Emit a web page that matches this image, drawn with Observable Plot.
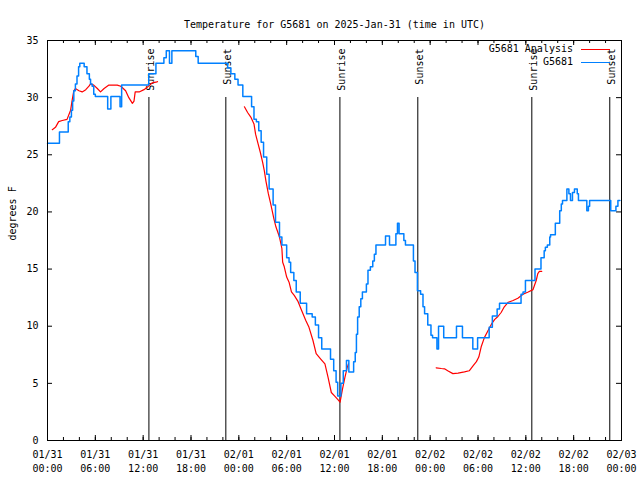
<!DOCTYPE html>
<html><head><meta charset="utf-8">
<script src="https://cdn.jsdelivr.net/npm/d3@7"></script>
<script src="https://cdn.jsdelivr.net/npm/@observablehq/plot@0.6"></script>
<style>
body{margin:0;background:#fff;}
#wrap{position:relative;width:640px;height:480px;font-family:"DejaVu Sans Mono",monospace;}
.lg{position:absolute;font-size:10px;line-height:12px;white-space:nowrap;text-align:right;color:#000;}
.sw{position:absolute;height:0;width:29px;}
</style></head><body><div id="wrap"></div>
<script>
// ---- data (hours since 2025-01-31 00:00 UTC) ----
const titleText = "Temperature for G5681 on 2025-Jan-31 (time in UTC)";
const yLabel = "degrees F";
const seriesNames = ["G5681 Analysis", "G5681"];
const seriesColors = ["#ff0000", "#0080ff"];

const obsHours = [0,1.5,2.6,2.8,3.0,3.15,3.3,3.5,3.7,3.9,4.05,4.6,4.95,5.25,5.4,5.6,5.8,6.0,7.55,7.95,9.1,9.3,12.7,13.6,14.6,14.9,15.3,15.6,18.6,18.9,22.6,23.0,23.5,23.9,24.5,25.6,25.9,26.2,26.5,26.8,27.1,27.5,27.8,28.3,28.6,29.1,29.4,30.0,30.3,30.5,30.9,31.2,31.7,32.5,33.2,33.6,34.0,34.4,35.5,35.9,36.2,36.4,36.8,37.1,37.5,37.8,38.4,38.6,38.75,38.9,39.1,39.3,39.5,40.0,40.2,40.5,40.8,41.0,41.2,42.4,42.9,43.7,43.9,44.1,44.7,44.9,45.9,46.1,46.4,46.8,47.1,47.3,47.7,48.1,48.3,48.85,49.05,49.7,51.3,52.05,53.35,53.95,55.4,55.8,56.4,56.7,59.4,59.65,59.95,61.15,61.9,62.3,62.45,62.7,63.0,63.1,63.7,64.25,64.45,64.6,65.15,65.4,65.6,65.85,66.1,66.45,66.6,67.65,67.85,68.0,70.65,71.3,71.55,71.8];
const obsTemps = [26,27,27.9,28.3,28.9,29.7,30.6,31.2,31.9,32.7,33,32.7,32.1,31.6,31.2,31,30.3,30.1,29,30.1,29.2,31.1,32.1,33,33.5,34.1,33,34.1,33.6,33,32.6,32.1,31.6,31.1,30.1,29.2,28.1,27.9,27.1,26.1,24.8,23.3,22,20.6,19.1,17.8,17.1,16,15.6,14.7,14,13,12,11.1,10.8,10.1,9,8,7.1,6.1,5.1,3.9,5,6.1,7,6,6.9,7.7,9.3,10.8,11.7,12.4,13,13.7,14.9,15.2,15.7,16.3,17.1,17.9,17.1,18.1,19,18.1,17.5,17.1,15.7,14.7,13.1,12.8,11.7,11.1,10.1,9.2,9,8,10,9,10,9,8,9,9.9,10.9,11.5,12,12.8,13,14,15,16,16.6,16.9,17.1,17.8,18,19,20.1,20.7,21,22,21.6,21,21.7,22,21.6,21,20.1,20.5,21,20.1,20.5,21,21];

// analysis: null marks a gap between runs
const anaHours = [0.6,1.0,1.4,1.85,2.45,2.9,3.1,3.3,3.5,3.95,4.35,4.8,5.2,5.4,5.8,6.25,6.65,7.1,7.7,8.75,9.2,9.8,10.2,10.65,10.85,11.0,11.5,12.1,12.5,13.15,13.6,13.8,
  null,
  24.7,25.1,25.5,25.9,26.1,26.4,26.7,27.0,27.2,27.4,27.7,28.0,28.4,28.65,29.1,29.4,29.5,29.7,30.0,30.3,30.6,30.95,31.4,31.8,32.4,32.8,33.3,33.7,34.3,34.8,35.2,35.6,36.0,36.4,36.7,37.0,37.3,37.6,37.75,
  null,
  48.75,49.4,49.8,50.2,50.85,51.5,52.3,52.9,53.4,53.8,54.1,54.4,54.8,55.25,55.7,56.1,56.5,56.9,57.3,57.8,58.4,59.0,59.65,60.3,60.9,61.1,61.3,61.5,61.7,62.0];
const anaTemps = [27.2,27.4,27.9,28.0,28.1,28.9,29.8,30.6,30.8,30.6,30.5,30.7,31.0,31.2,31.1,30.8,30.5,30.8,31.1,31.1,31.0,30.6,30.0,29.5,29.7,30.5,30.5,30.7,30.9,31.3,31.35,31.4,
  null,
  29.2,28.7,28.3,27.7,26.8,26.0,25.2,24.3,23.6,22.7,21.6,20.7,19.4,18.7,17.8,16.8,15.6,15.2,14.3,13.85,13.0,12.7,12.2,11.5,10.5,9.9,8.75,7.6,7.1,6.7,5.5,4.2,3.9,3.6,3.35,4.5,5.5,6.4,6.7,
  null,
  6.36,6.3,6.27,6.1,5.85,5.9,6.0,6.1,6.56,6.9,7.3,8.2,9.0,9.6,10.2,10.6,10.85,11.2,11.7,12.1,12.25,12.45,12.8,13.0,13.2,13.6,14.0,14.6,14.8,14.8];

const eventHours = [12.72, 22.37, 36.68, 46.45, 60.75, 70.53];
const eventLabels = ["Sunrise","Sunset","Sunrise","Sunset","Sunrise","Sunset"];
const yTicks = [0,5,10,15,20,25,30,35];
const majorTickHours = d3.range(0, 73, 6);
const minorTickHours = d3.range(0, 73, 2);

// ---- build ----
const base = Date.UTC(2025, 0, 31);
const T = h => new Date(base + h * 3600e3);
const obs = obsHours.map((h, i) => ({t: T(h), v: obsTemps[i]}));
const ana = anaHours.map((h, i) => h == null ? {t: null, v: NaN} : ({t: T(h), v: anaTemps[i]}));
const events = eventHours.map((h, i) => ({t: T(h), label: eventLabels[i]}));
const majorTicks = majorTickHours.map(T);
const minorTicks = minorTickHours.map(T);
const fD = d3.utcFormat("%m/%d"), fH = d3.utcFormat("%H:%M");
const fmt = d => fD(d) + "\n" + fH(d);

const W = 640, H = 480, mL = 47, mR = 19, mT = 40, mB = 40;
const iw = W - mL - mR, ih = H - mT - mB;

const chart = Plot.plot({
  width: W, height: H,
  marginLeft: mL, marginRight: mR, marginTop: mT, marginBottom: mB,
  style: {fontFamily: '"DejaVu Sans Mono", monospace', fontSize: "10px", background: "white", color: "black"},
  x: {type: "utc", domain: [T(0), T(72)], label: null},
  y: {domain: [0, 35], label: null},
  marks: [
    Plot.axisX(majorTicks, {tickSize: 0, tickPadding: 8, tickFormat: fmt, lineHeight: 1.4, label: null}),
    Plot.axisY(yTicks, {tickSize: 0, tickPadding: 9, label: null}),
    Plot.ruleX(minorTicks, {insetTop: ih - 3, stroke: "black"}),
    Plot.ruleX(minorTicks, {insetBottom: ih - 3, stroke: "black"}),
    Plot.ruleX(majorTicks, {insetTop: ih - 5, stroke: "black"}),
    Plot.ruleX(majorTicks, {insetBottom: ih - 5, stroke: "black"}),
    Plot.ruleY(yTicks, {insetRight: iw - 5, stroke: "black"}),
    Plot.ruleY(yTicks, {insetLeft: iw - 5, stroke: "black"}),
    Plot.ruleX(events, {x: "t", insetTop: 57, stroke: "black", strokeWidth: 1}),
    Plot.text(events, {x: "t", text: "label", frameAnchor: "top", rotate: -90, textAnchor: "end", dy: 8, dx: -2, fill: "black"}),
    Plot.line(ana, {x: "t", y: "v", stroke: seriesColors[0], strokeWidth: 1.2}),
    Plot.line(obs, {x: "t", y: "v", stroke: seriesColors[1], strokeWidth: 1.5, curve: "step-after"}),
    Plot.frame({stroke: "black"}),
    Plot.text([titleText], {text: d => d, frameAnchor: "top", dy: -20, fill: "black"}),
    Plot.text([yLabel], {text: d => d, frameAnchor: "left", dx: -35, rotate: -90, fill: "black"})
  ]
});
const wrap = document.getElementById("wrap");
wrap.appendChild(chart);

// legend inside the plot, top-right
seriesNames.forEach((name, i) => {
  const cy = 49 + i * 13.5;
  const t = document.createElement("div");
  t.className = "lg";
  t.textContent = name;
  t.style.right = (W - 573) + "px";
  t.style.top = (cy - 6.5) + "px";
  wrap.appendChild(t);
  const s = document.createElement("div");
  s.className = "sw";
  s.style.left = "581px";
  s.style.top = (cy - 0.5) + "px";
  s.style.borderTop = (i ? 1.5 : 1.2) + "px solid " + seriesColors[i];
  wrap.appendChild(s);
});
</script>
</body></html>
